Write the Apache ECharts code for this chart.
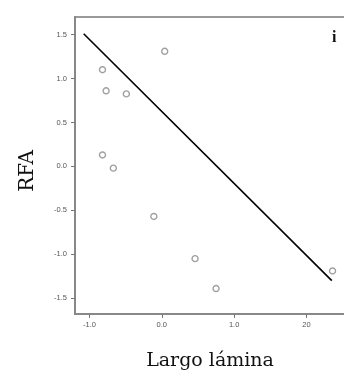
<!DOCTYPE html>
<html><head><meta charset="utf-8">
<script src="https://cdn.jsdelivr.net/npm/echarts@6/dist/echarts.min.js"></script>
<style>html,body{margin:0;padding:0;background:#fff}#c{width:344px;height:376px}</style>
</head><body><div id="c"></div>
<script>
var pointX = [0.04, -0.82, -0.77, -0.49, -0.82, -0.67, -0.11, 0.46, 0.75, 2.36];
var pointY = [1.31, 1.10, 0.86, 0.825, 0.13, -0.02, -0.57, -1.05, -1.39, -1.19];
var fitX = [-1.08, 2.35];
var fitY = [1.51, -1.30];
var xTickValues = [-1, 0, 1, 2];
var xTickLabels = ['-1.0', '0.0', '1.0', '20'];
var yTickValues = [-1.5, -1, -0.5, 0, 0.5, 1, 1.5];
var yTickLabels = ['-1.5', '-1.0', '-0.5', '0.0', '0.5', '1.0', '1.5'];
var xTitle = 'Largo lámina';
var yTitle = 'RFA';
var panelLabel = 'i';

var chart = echarts.init(document.getElementById('c'), null, {renderer: 'canvas'});
var scatterData = pointX.map(function (x, i) { return [x, pointY[i]]; });
var lineData = fitX.map(function (x, i) { return [x, fitY[i]]; });
function lab(vals, labels) {
  return function (v) {
    for (var i = 0; i < vals.length; i++) if (Math.abs(vals[i] - v) < 1e-6) return labels[i];
    return '';
  };
}
chart.setOption({
  animation: false,
  grid: {left: 75, top: 17, width: 285, height: 297, containLabel: false, outerBoundsMode: 'none',
         show: true, borderColor: '#9a9a9a', borderWidth: 2, backgroundColor: 'transparent'},
  xAxis: {
    type: 'value', min: -1.2, max: 2.74,
    splitLine: {show: false},
    axisLine: {show: true, onZero: false, lineStyle: {color: '#888', width: 2}},
    axisTick: {show: true, length: 4, customValues: xTickValues, lineStyle: {color: '#777'}},
    axisLabel: {customValues: xTickValues, formatter: lab(xTickValues, xTickLabels), color: '#555', fontSize: 7.5, fontFamily: 'Arial', margin: 7},
    name: xTitle, nameLocation: 'middle', nameGap: 38,
    nameTextStyle: {fontFamily: 'DejaVu Serif', fontSize: 19, color: '#111', padding: [0, 15, 0, 0]}
  },
  yAxis: {
    type: 'value', min: -1.68, max: 1.70,
    splitLine: {show: false},
    axisLine: {show: true, onZero: false, lineStyle: {color: '#888', width: 2}},
    axisTick: {show: true, length: 4, customValues: yTickValues, lineStyle: {color: '#777'}},
    axisLabel: {customValues: yTickValues, formatter: lab(yTickValues, yTickLabels), color: '#555', fontSize: 7.5, fontFamily: 'Arial', margin: 8}
  },
  series: [
    {type: 'line', data: lineData, symbol: 'none', lineStyle: {color: '#000', width: 1.6}, z: 2},
    {type: 'scatter', data: scatterData, symbol: 'circle', symbolSize: 6,
     itemStyle: {color: '#fff', borderColor: '#888', borderWidth: 1.4}, z: 3}
  ],
  graphic: [
    {type: 'text', left: 332, top: 30, style: {text: panelLabel, font: 'bold 16px "Liberation Serif"', fill: '#111'}},
    {type: 'text', x: 28, y: 171, rotation: Math.PI / 2,
     style: {text: yTitle, font: '20px "DejaVu Serif"', fill: '#111', align: 'center', verticalAlign: 'middle'}}
  ]
});
</script></body></html>
